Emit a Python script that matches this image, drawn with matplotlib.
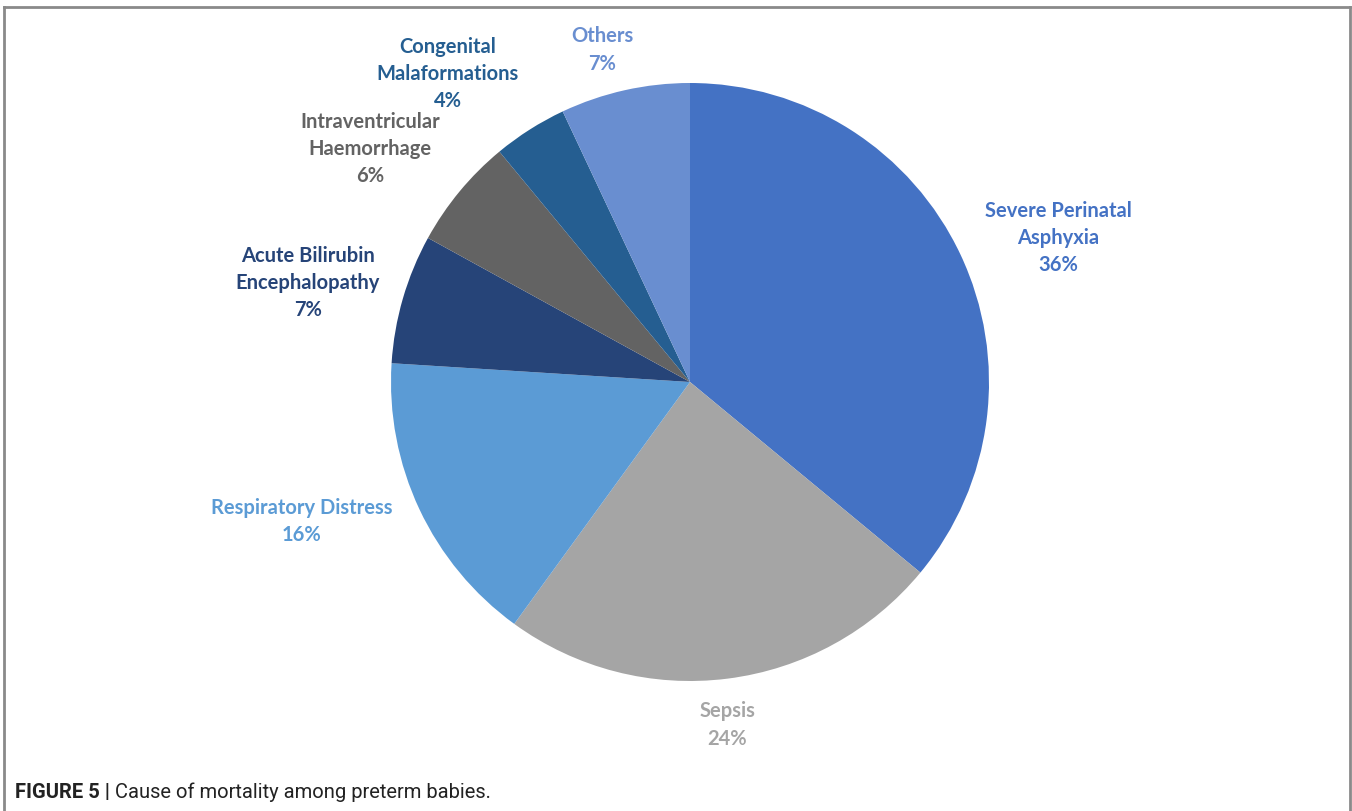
import matplotlib
matplotlib.use("Agg")
import matplotlib.pyplot as plt
from matplotlib.lines import Line2D

# causes of death, clockwise from 12 o'clock
causes = ["Severe Perinatal\nAsphyxia", "Sepsis", "Respiratory Distress",
          "Acute Bilirubin\nEncephalopathy", "Intraventricular\nHaemorrhage",
          "Congenital\nMalaformations", "Others"]
share = [36, 24, 16, 7, 6, 4, 7]
colors = ["#4472C4", "#A5A5A5", "#5B9BD5", "#264478", "#636363", "#255E91", "#698ED0"]

# label centres in pie-radius units
label_xy = [(1.231, 0.485), (0.124, -1.144), (-1.298, -0.462), (-1.278, 0.334),
            (-1.070, 0.783), (-0.811, 1.033), (-0.294, 1.114)]

W, H = 1352, 812
fig = plt.figure(figsize=(W / 100, H / 100), dpi=100)
fig.patch.set_facecolor("white")

cx, cy, R = 690, 383, 299
ax = fig.add_axes([(cx - R) / W, (H - cy - R) / H, 2 * R / W, 2 * R / H])
wedges, _ = ax.pie(share, colors=colors, startangle=90, counterclock=False,
                   radius=1.0, wedgeprops=dict(linewidth=0))
ax.set_xlim(-1, 1)
ax.set_ylim(-1, 1)
ax.set_aspect("equal")
ax.axis("off")

for name, val, col, (lx, ly) in zip(causes, share, colors, label_xy):
    ax.text(lx, ly, f"{name}\n{val}%", ha="center", va="center", color=col,
            fontsize=14.5, fontweight="bold", family="Lato", linespacing=1.45)

# grey frame around the figure (bottom edge runs off the page)
frame = dict(color="#8a8a8a", linewidth=2.0, transform=fig.transFigure)
x0, x1, y0 = 3.5 / W, 1349.5 / W, 1 - 7.5 / H
fig.add_artist(Line2D([x0, x1], [y0, y0], **frame))
fig.add_artist(Line2D([x0, x0], [0, y0], **frame))
fig.add_artist(Line2D([x1, x1], [0, y0], **frame))

cap_font = "Roboto"
t = fig.text(15 / W, 1 - 798 / H, "FIGURE 5 | ", fontsize=14.5, fontweight="bold",
             family=cap_font, color="#222222", va="baseline")
fig.canvas.draw()
bb = t.get_window_extent()
fig.text(bb.x1 / W, 1 - 798 / H, "Cause of mortality among preterm babies.",
         fontsize=14.5, family=cap_font, color="#222222", va="baseline")

fig.savefig("out.png", dpi=100)
